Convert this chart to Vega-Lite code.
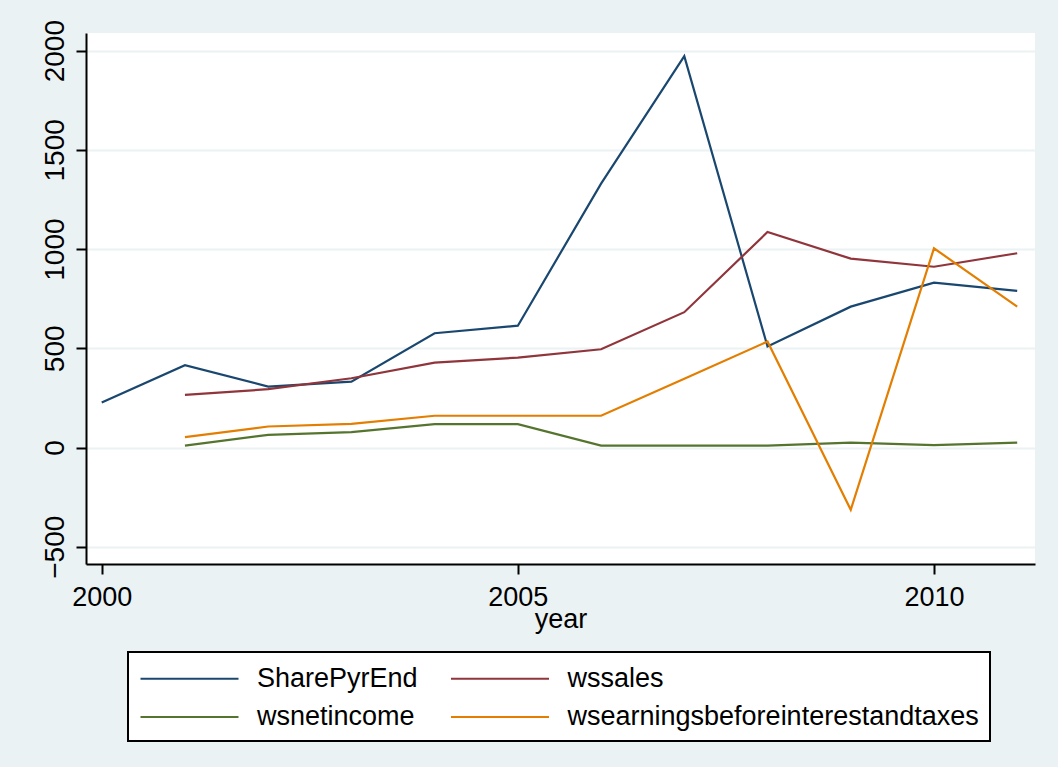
{
  "$schema": "https://vega.github.io/schema/vega-lite/v6.json",
  "autosize": {"type": "none"},
  "width": 949,
  "height": 531,
  "padding": {"left": 86, "top": 33, "right": 23, "bottom": 203},
  "background": "#EAF2F3",
  "config": {
    "font": "Liberation Sans",
    "view": {"fill": "white", "stroke": null},
    "axis": {"domainColor": "black", "domainWidth": 2, "tickColor": "black", "tickWidth": 2, "tickSize": 10, "labelColor": "black", "labelFontSize": 27, "titleFontSize": 27, "titleFontWeight": "normal", "titleColor": "black", "labelFlush": false, "labelOverlap": false},
    "legend": {"strokeWidth": 2}
  },
  "data": {
    "values": [
      {"year": 2000, "series": "SharePyrEnd", "value": 227},
      {"year": 2001, "series": "SharePyrEnd", "value": 415},
      {"year": 2002, "series": "SharePyrEnd", "value": 307},
      {"year": 2003, "series": "SharePyrEnd", "value": 332},
      {"year": 2004, "series": "SharePyrEnd", "value": 576},
      {"year": 2005, "series": "SharePyrEnd", "value": 614},
      {"year": 2006, "series": "SharePyrEnd", "value": 1330},
      {"year": 2007, "series": "SharePyrEnd", "value": 1972},
      {"year": 2008, "series": "SharePyrEnd", "value": 509},
      {"year": 2009, "series": "SharePyrEnd", "value": 710},
      {"year": 2010, "series": "SharePyrEnd", "value": 831},
      {"year": 2011, "series": "SharePyrEnd", "value": 789},
      {"year": 2001, "series": "wssales", "value": 265},
      {"year": 2002, "series": "wssales", "value": 294},
      {"year": 2003, "series": "wssales", "value": 349},
      {"year": 2004, "series": "wssales", "value": 428},
      {"year": 2005, "series": "wssales", "value": 453},
      {"year": 2006, "series": "wssales", "value": 495},
      {"year": 2007, "series": "wssales", "value": 682},
      {"year": 2008, "series": "wssales", "value": 1086},
      {"year": 2009, "series": "wssales", "value": 952},
      {"year": 2010, "series": "wssales", "value": 911},
      {"year": 2011, "series": "wssales", "value": 979},
      {"year": 2001, "series": "wsnetincome", "value": 10},
      {"year": 2002, "series": "wsnetincome", "value": 64},
      {"year": 2003, "series": "wsnetincome", "value": 78},
      {"year": 2004, "series": "wsnetincome", "value": 118},
      {"year": 2005, "series": "wsnetincome", "value": 118},
      {"year": 2006, "series": "wsnetincome", "value": 10},
      {"year": 2007, "series": "wsnetincome", "value": 10},
      {"year": 2008, "series": "wsnetincome", "value": 10},
      {"year": 2009, "series": "wsnetincome", "value": 25},
      {"year": 2010, "series": "wsnetincome", "value": 12},
      {"year": 2011, "series": "wsnetincome", "value": 25},
      {"year": 2001, "series": "wsearningsbeforeinterestandtaxes", "value": 52},
      {"year": 2002, "series": "wsearningsbeforeinterestandtaxes", "value": 106},
      {"year": 2003, "series": "wsearningsbeforeinterestandtaxes", "value": 119},
      {"year": 2004, "series": "wsearningsbeforeinterestandtaxes", "value": 160},
      {"year": 2005, "series": "wsearningsbeforeinterestandtaxes", "value": 160},
      {"year": 2006, "series": "wsearningsbeforeinterestandtaxes", "value": 160},
      {"year": 2007, "series": "wsearningsbeforeinterestandtaxes", "value": 346},
      {"year": 2008, "series": "wsearningsbeforeinterestandtaxes", "value": 534},
      {"year": 2009, "series": "wsearningsbeforeinterestandtaxes", "value": -314},
      {"year": 2010, "series": "wsearningsbeforeinterestandtaxes", "value": 1004},
      {"year": 2011, "series": "wsearningsbeforeinterestandtaxes", "value": 710}
    ]
  },
  "mark": {"type": "line", "strokeWidth": 2.2},
  "encoding": {
    "x": {
      "field": "year", "type": "quantitative",
      "scale": {"domain": [1999.811, 2011.214], "nice": false, "zero": false},
      "axis": {"values": [2000, 2005, 2010], "format": "d", "grid": false, "title": "year", "labelPadding": 10, "titlePadding": -4}
    },
    "y": {
      "field": "value", "type": "quantitative",
      "scale": {"domain": [-587, 2089], "nice": false, "zero": false},
      "axis": {"values": [-500, 0, 500, 1000, 1500, 2000], "format": "d", "title": null, "grid": true, "gridColor": "#EAF2F3", "gridWidth": 2, "labelAngle": -90, "labelAlign": "center", "labelBaseline": "alphabetic", "labelPadding": 13, "labelFontSize": 28}
    },
    "color": {
      "field": "series", "type": "nominal",
      "scale": {
        "domain": ["SharePyrEnd", "wssales", "wsnetincome", "wsearningsbeforeinterestandtaxes"],
        "range": ["#1a476f", "#90353b", "#55752f", "#e37e00"]
      },
      "legend": {
        "title": null, "orient": "none", "legendX": 42, "legendY": 619, "columns": 2, "direction": "horizontal",
        "symbolType": "M-1,0L6,0", "symbolSize": 784, "symbolStrokeWidth": 2.2,
        "labelFontSize": 27, "labelColor": "black", "labelOffset": 87, "labelLimit": 0,
        "columnPadding": 28.5, "rowPadding": 9.5, "padding": 11,
        "fillColor": "white", "strokeColor": "black"
      }
    }
  }
}
